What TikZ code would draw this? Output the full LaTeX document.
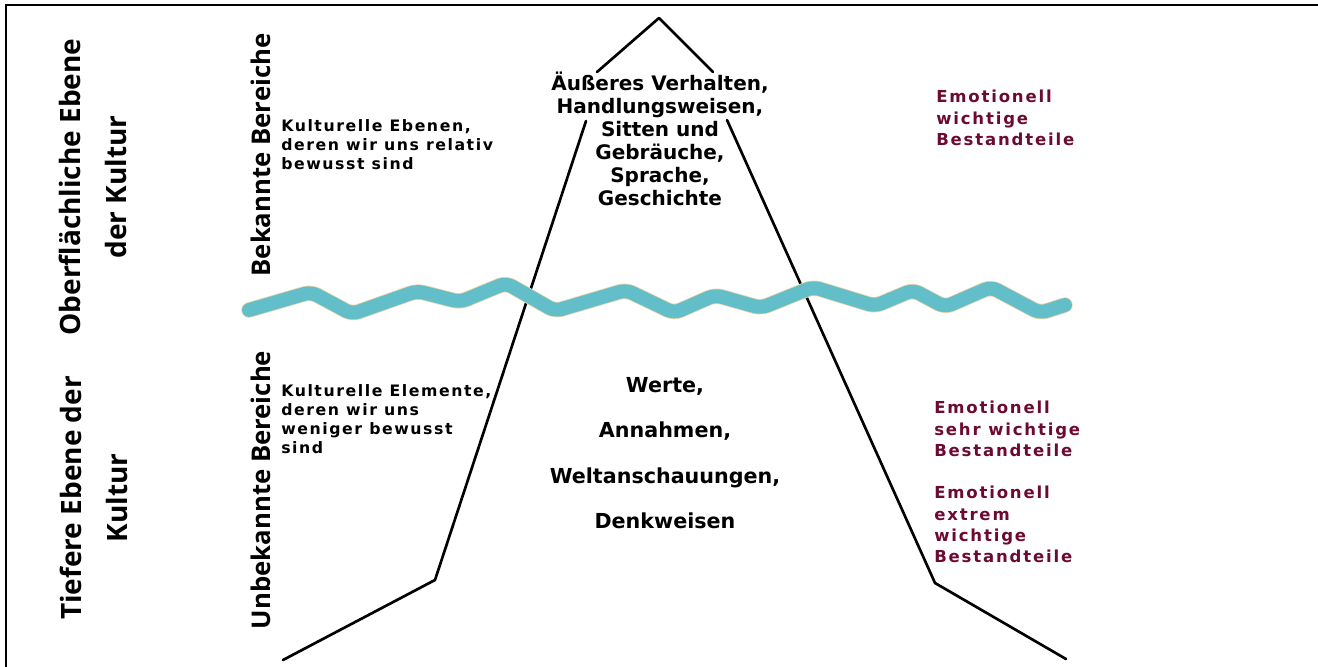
\documentclass[tikz,border=0pt]{standalone}
\usepackage{fontspec}
\setmainfont{DejaVu Sans}
\newfontfamily\labfont{Open Sans}
\newfontfamily\icefont{DejaVu Sans}
\newfontfamily\smallfont[LetterSpace=10]{DejaVu Sans}
\newfontfamily\redfont[LetterSpace=11]{DejaVu Sans}
\definecolor{wavecol}{RGB}{98,190,201}
\definecolor{wavehalo}{RGB}{236,214,170}
\definecolor{redtxt}{RGB}{108,10,50}
\begin{document}
\begin{tikzpicture}[x=0.75pt,y=-0.75pt,
  sidelabel/.style={rotate=90,font=\labfont\bfseries\fontsize{21}{34}\selectfont,align=center,inner sep=0pt},
  arealabel/.style={rotate=90,font=\labfont\bfseries\fontsize{19.3}{24}\selectfont,inner sep=0pt},
  icetext/.style={font=\icefont\bfseries\fontsize{15}{17.25}\selectfont,align=center,inner sep=0pt},
  deeptext/.style={font=\icefont\bfseries\fontsize{15.5}{34}\selectfont,align=center,inner sep=0pt},
  smalltext/.style={font=\smallfont\bfseries\fontsize{11.8}{14.4}\selectfont,align=left,inner sep=0pt,anchor=north west},
  redtext/.style={font=\redfont\bfseries\fontsize{12.4}{15.9}\selectfont,align=left,inner sep=0pt,anchor=north west,text=redtxt},
  ice/.style={line width=2pt,line join=round,line cap=round},
  frameline/.style={line width=1.9pt}]
\useasboundingbox (0,0) rectangle (1318,667);
% frame (top and left edges)
\coordinate (fbl) at (6,668);
\coordinate (ftl) at (6,5);
\coordinate (ftr) at (1319,5);
\draw[frameline] (fbl) -- (ftl) -- (ftr);
% side labels
\node[sidelabel] (surf) at (93,187) {Oberflächliche Ebene\\der Kultur};
\node[sidelabel] (deep) at (94,498) {Tiefere Ebene der\\Kultur};
\node[arealabel] (known) at (261,155) {Bekannte Bereiche};
\node[arealabel] (unknown) at (261,490) {Unbekannte Bereiche};
% small descriptions
\node[smalltext] (kdesc) at (281,119) {Kulturelle Ebenen,\\deren wir uns relativ\\bewusst sind};
\node[smalltext] (udesc) at (281,384) {Kulturelle Elemente,\\deren wir uns\\weniger bewusst\\sind};
% iceberg texts
\node[icetext] (top) at (660,139) {Äußeres Verhalten,\\Handlungsweisen,\\Sitten und\\Gebräuche,\\Sprache,\\Geschichte};
\node[deeptext] (bottom) at (665,453) {Werte,\\Annahmen,\\Weltanschauungen,\\Denkweisen};
% red texts
\node[redtext] (e1) at (936,90) {Emotionell\\wichtige\\Bestandteile};
\node[redtext] (e2) at (934,401) {Emotionell\\sehr wichtige\\Bestandteile};
\node[redtext] (e3) at (934,486) {Emotionell\\extrem\\wichtige\\Bestandteile};
% iceberg outline
\coordinate (apex) at (659,18);
\coordinate (roofl) at (597,72);
\coordinate (roofr) at (713,72);
\coordinate (ll1) at (586,121);
\coordinate (ll2) at (435,580);
\coordinate (ll3) at (283,660);
\coordinate (rl1) at (727,120);
\coordinate (rl2) at (935,583);
\coordinate (rl3) at (1066,659);
\draw[ice] (roofl) -- (apex) -- (roofr);
\draw[ice] (ll1) -- (ll2) -- (ll3);
\draw[ice] (rl1) -- (rl2) -- (rl3);
% water line
\def\wavepath{(249,310) -- (311,292) -- (352,314) -- (417,291) -- (460,302) -- (506,283) -- (555,311) -- (626,290) -- (674,313) -- (715,295) -- (761,308) -- (813,287) -- (875,306) -- (913,290) -- (945,307) -- (991,287) -- (1040,313) -- (1065,305)}
\draw[wavehalo,line width=11.6pt,line join=round,line cap=round,rounded corners=5pt] \wavepath;
\draw[wavecol,line width=10.4pt,line join=round,line cap=round,rounded corners=5pt] \wavepath;
\end{tikzpicture}
\end{document}
